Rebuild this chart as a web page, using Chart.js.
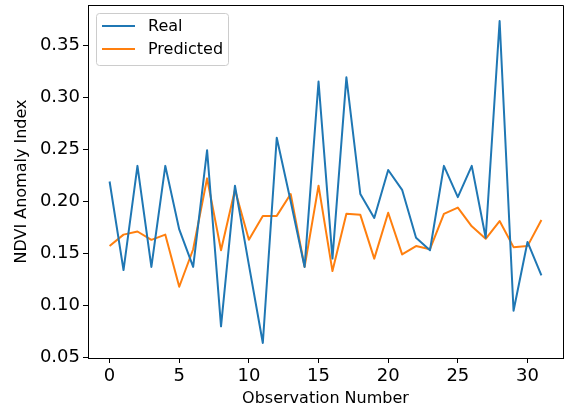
<!DOCTYPE html>
<html>
<head>
<meta charset="utf-8">
<script src="https://cdn.jsdelivr.net/npm/chart.js@4.4.0/dist/chart.umd.min.js"></script>
<style>
  html, body { margin: 0; padding: 0; background: #fff; }
  #wrap { width: 566px; height: 413px; }
</style>
</head>
<body>
<div id="wrap"><canvas id="chart" width="566" height="413"></canvas></div>
<script>
const FONT = "'DejaVu Sans', sans-serif";

// observation numbers on the x axis
const observations = [0, 1, 2, 3, 4, 5, 6, 7, 8, 9, 10, 11, 12, 13, 14, 15,
  16, 17, 18, 19, 20, 21, 22, 23, 24, 25, 26, 27, 28, 29, 30, 31];

const realValues = [0.219, 0.134, 0.234, 0.137, 0.234, 0.173, 0.137, 0.249, 0.080, 0.215,
  0.139, 0.064, 0.261, 0.200, 0.137, 0.315, 0.145, 0.319, 0.207, 0.184,
  0.230, 0.211, 0.165, 0.153, 0.234, 0.204, 0.234, 0.165, 0.373, 0.095,
  0.161, 0.129];

const predictedValues = [0.157, 0.168, 0.171, 0.163, 0.168, 0.118, 0.154, 0.222, 0.153, 0.211,
  0.163, 0.186, 0.186, 0.207, 0.137, 0.215, 0.133, 0.188, 0.187, 0.145,
  0.189, 0.149, 0.157, 0.154, 0.188, 0.194, 0.176, 0.164, 0.181, 0.156,
  0.157, 0.182];

const xTicks = [0, 5, 10, 15, 20, 25, 30];
const yTicks = [0.05, 0.10, 0.15, 0.20, 0.25, 0.30, 0.35];

// top + right spines (chart.js only draws the axis side)
const framePlugin = {
  id: "frame",
  afterDatasetsDraw(chart) {
    const { left, top, right, bottom } = chart.chartArea;
    const ctx = chart.ctx;
    ctx.save();
    ctx.strokeStyle = "#000";
    ctx.lineWidth = 1;
    ctx.beginPath();
    ctx.moveTo(left, top + 0.5);
    ctx.lineTo(right + 0.5, top + 0.5);
    ctx.lineTo(right + 0.5, bottom);
    ctx.stroke();
    ctx.restore();
  },
};

// matplotlib-ish boxed legend in the upper left corner
const boxLegend = {
  id: "boxLegend",
  afterDraw(chart) {
    const ctx = chart.ctx;
    const { left, top } = chart.chartArea;
    const x = left + 8, y = top + 8, w = 132, h = 52, r = 3;
    ctx.save();
    ctx.beginPath();
    ctx.roundRect(x + 0.5, y + 0.5, w, h, r);
    ctx.fillStyle = "rgba(255,255,255,0.8)";
    ctx.fill();
    ctx.strokeStyle = "#cccccc";
    ctx.lineWidth = 1;
    ctx.stroke();
    ctx.font = "16px " + FONT;
    ctx.textBaseline = "middle";
    chart.data.datasets.forEach((ds, i) => {
      const ly = y + 13 + i * 23;
      ctx.strokeStyle = ds.borderColor;
      ctx.lineWidth = 2;
      ctx.beginPath();
      ctx.moveTo(x + 6, ly);
      ctx.lineTo(x + 39, ly);
      ctx.stroke();
      ctx.fillStyle = "#000";
      ctx.fillText(ds.label, x + 52, ly + 1);
    });
    ctx.restore();
  },
};

new Chart(document.getElementById("chart"), {
  type: "line",
  data: {
    datasets: [
      {
        label: "Real",
        data: observations.map((x, i) => ({ x: x, y: realValues[i] })),
        borderColor: "#1f77b4",
        borderWidth: 2,
        borderJoinStyle: "round",
        pointRadius: 0,
        fill: false,
      },
      {
        label: "Predicted",
        data: observations.map((x, i) => ({ x: x, y: predictedValues[i] })),
        borderColor: "#ff7f0e",
        borderWidth: 2,
        borderJoinStyle: "round",
        pointRadius: 0,
        fill: false,
      },
    ],
  },
  options: {
    responsive: false,
    animation: false,
    devicePixelRatio: 1,
    layout: { padding: { left: 0, right: 3, top: 5, bottom: 0 } },
    plugins: {
      legend: { display: false },
      tooltip: { enabled: false },
    },
    scales: {
      x: {
        type: "linear",
        min: -1.55,
        max: 32.55,
        afterBuildTicks: (s) => { s.ticks = xTicks.map((v) => ({ value: v })); },
        afterFit: (s) => {
          s.height = 55;
          s.paddingLeft = 0;
          s.paddingRight = 0;
        },
        grid: { drawOnChartArea: false, drawTicks: true, tickLength: 5, color: "#000" },
        border: { display: true, color: "#000", width: 1 },
        ticks: {
          color: "#000",
          font: { family: FONT, size: 18 },
          padding: 3,
          maxRotation: 0,
          autoSkip: false,
          callback: (v) => String(v),
        },
        title: {
          display: true,
          text: "Observation Number",
          color: "#000",
          font: { family: FONT, size: 16 },
          padding: { top: 0, bottom: 5 },
        },
      },
      y: {
        min: 0.0496,
        max: 0.3884,
        afterBuildTicks: (s) => { s.ticks = yTicks.map((v) => ({ value: v })); },
        afterFit: (s) => {
          s.width = 88;
          s.paddingTop = 0;
          s.paddingBottom = 0;
        },
        grid: { drawOnChartArea: false, drawTicks: true, tickLength: 5, color: "#000" },
        border: { display: true, color: "#000", width: 1 },
        ticks: {
          color: "#000",
          font: { family: FONT, size: 18 },
          padding: 3,
          autoSkip: false,
          callback: (v) => v.toFixed(2),
        },
        title: {
          display: true,
          text: "NDVI Anomaly Index",
          color: "#000",
          font: { family: FONT, size: 16 },
          padding: { top: 12, bottom: 0 },
        },
      },
    },
  },
  plugins: [framePlugin, boxLegend],
});
</script>
</body>
</html>
